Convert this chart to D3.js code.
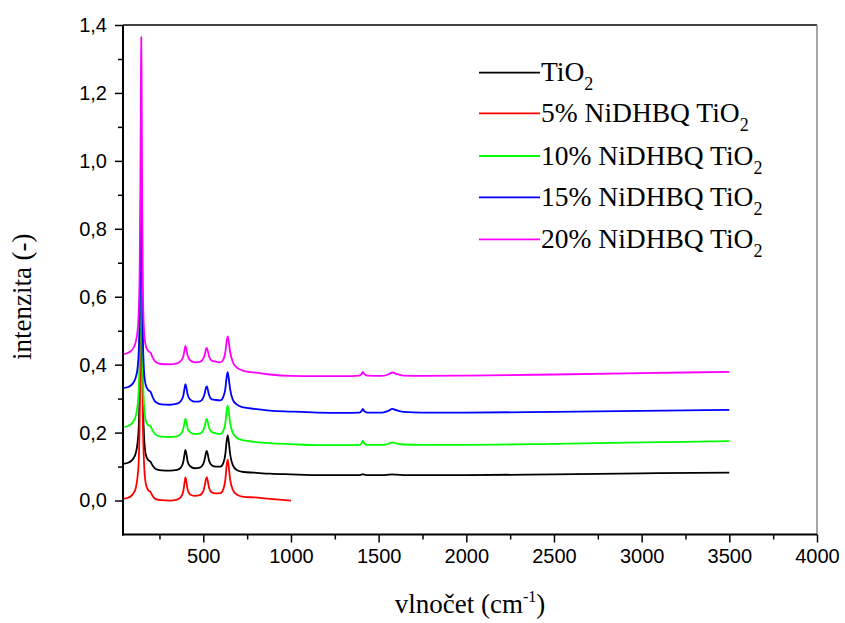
<!DOCTYPE html>
<html>
<head>
<meta charset="utf-8">
<script src="https://cdn.jsdelivr.net/npm/d3@7"></script>
<style>
  html, body { margin: 0; padding: 0; background: #fff; }
  svg { display: block; }
</style>
</head>
<body>
<svg id="chart" width="845" height="623"></svg>
<script>
// ---- data ----
const wavenumbers = [42, 75, 100, 115, 125, 132, 137, 141, 144, 146, 148, 151, 155, 162, 172, 186, 198, 210, 228, 260, 310, 350, 372, 386, 393, 398, 403, 411, 425, 450, 480, 500, 510, 515, 520, 525, 533, 548, 572, 598, 614, 626, 633, 639, 645, 653, 668, 690, 730, 790, 880, 1000, 1150, 1300, 1390, 1403, 1410, 1418, 1435, 1520, 1555, 1578, 1600, 1640, 1750, 2000, 2500, 3000, 3500];

const tio2 = [.108, .112, .123, .14, .17, .22, .33, .53, .74, .80, .73, .52, .32, .19, .135, .119, .115, .104, .093, .089, .088, .09, .097, .114, .136, .149, .139, .114, .101, .095, .097, .108, .127, .141, .146, .137, .117, .104, .10, .10, .11, .138, .174, .192, .174, .137, .104, .09, .084, .082, .079, .077, .075, .075, .075, .076, .078, .076, .075, .075, .076, .077, .076, .075, .075, .075, .077, .08, .082];

const ni5 = [.005, .009, .02, .037, .07, .12, .23, .43, .66, .72, .65, .45, .25, .11, .05, .03, .026, .014, .004, .001, .0, .003, .01, .028, .052, .068, .057, .031, .018, .014, .016, .028, .049, .063, .069, .059, .037, .024, .021, .022, .033, .063, .103, .120, .10, .062, .032, .018, .011, .009, .005, .0, null, null, null, null, null, null, null, null, null, null, null, null, null, null, null, null, null];

const ni10 = [.216, .22, .232, .25, .28, .33, .44, .63, .82, .87, .80, .60, .40, .28, .235, .222, .219, .207, .194, .188, .187, .189, .196, .212, .23, .241, .232, .211, .201, .196, .197, .207, .223, .235, .240, .232, .214, .202, .198, .196, .205, .23, .264, .279, .262, .229, .199, .185, .177, .173, .169, .166, .163, .163, .164, .169, .176, .168, .164, .164, .167, .171, .168, .165, .164, .164, .167, .171, .175];

const ni15 = [.331, .335, .346, .363, .39, .44, .54, .72, .90, .95, .88, .68, .49, .38, .34, .325, .321, .306, .29, .283, .282, .285, .293, .309, .330, .343, .334, .311, .297, .291, .292, .303, .320, .332, .336, .328, .31, .298, .296, .295, .305, .33, .363, .378, .36, .328, .297, .283, .274, .27, .265, .262, .259, .258, .259, .264, .27, .263, .259, .259, .264, .27, .266, .261, .259, .259, .261, .264, .267];

const ni20 = [.431, .436, .448, .468, .50, .56, .68, .92, 1.22, 1.365, 1.25, .92, .64, .50, .455, .440, .436, .422, .408, .402, .401, .404, .411, .425, .443, .455, .447, .426, .413, .407, .408, .418, .433, .445, .449, .442, .424, .412, .409, .407, .415, .438, .468, .483, .468, .438, .408, .392, .382, .377, .371, .367, .366, .366, .368, .373, .379, .372, .368, .367, .371, .377, .373, .368, .367, .368, .371, .375, .379];

const seriesNames = ["TiO2", "5% NiDHBQ TiO2", "10% NiDHBQ TiO2", "15% NiDHBQ TiO2", "20% NiDHBQ TiO2"];
const legendMain = ["TiO", "5% NiDHBQ TiO", "10% NiDHBQ TiO", "15% NiDHBQ TiO", "20% NiDHBQ TiO"];
const seriesColors = ["#000000", "#ff0000", "#00ff00", "#0000ff", "#ff00ff"];
const seriesValues = [tio2, ni5, ni10, ni15, ni20];

const xMajorTicks = [500, 1000, 1500, 2000, 2500, 3000, 3500, 4000];
const xMinorTicks = [250, 750, 1250, 1750, 2250, 2750, 3250, 3750];
const yMajorTicks = [0.0, 0.2, 0.4, 0.6, 0.8, 1.0, 1.2, 1.4];
const yMinorTicks = [0.1, 0.3, 0.5, 0.7, 0.9, 1.1, 1.3];

// ---- layout ----
const L = 123, R = 817, T = 25, B = 534.5;
const svg = d3.select("#chart");
const x = d3.scaleLinear().domain([42, 4000]).range([L, R]);
const y = d3.scaleLinear().domain([-0.1, 1.4]).range([B, T]);

const tickFont = "'Liberation Sans', Arial, sans-serif";
const serif = "'Liberation Serif', 'Times New Roman', serif";

// frame top & right
svg.append("line").attr("x1", L).attr("x2", R).attr("y1", T).attr("y2", T)
  .attr("stroke", "#000").attr("stroke-width", 1.3);
svg.append("line").attr("x1", R).attr("x2", R).attr("y1", T).attr("y2", B)
  .attr("stroke", "#777").attr("stroke-width", 1.3);

// series
const line = d3.line()
  .defined(d => d[1] !== null)
  .x(d => x(d[0])).y(d => y(d[1]))
  .curve(d3.curveMonotoneX);

const gLines = svg.append("g");
seriesValues.forEach((vals, i) => {
  const pts = wavenumbers.map((w, j) => [w, vals[j]]);
  gLines.append("path")
    .datum(pts)
    .attr("d", line)
    .attr("fill", "none")
    .attr("stroke", seriesColors[i])
    .attr("stroke-width", 1.8)
    .attr("stroke-linejoin", "round");
});

// axes
const xAxis = svg.append("g").attr("transform", `translate(0,${B})`)
  .call(d3.axisBottom(x).tickValues(xMajorTicks).tickSize(8).tickPadding(6).tickFormat(d3.format("d")));
const xMinor = svg.append("g").attr("transform", `translate(0,${B})`)
  .call(d3.axisBottom(x).tickValues(xMinorTicks).tickSize(5).tickFormat(""));
const yAxis = svg.append("g").attr("transform", `translate(${L},0)`)
  .call(d3.axisLeft(y).tickValues(yMajorTicks).tickSize(8).tickPadding(8)
    .tickFormat(d => d.toFixed(1).replace(".", ",")));
const yMinor = svg.append("g").attr("transform", `translate(${L},0)`)
  .call(d3.axisLeft(y).tickValues(yMinorTicks).tickSize(5).tickFormat(""));

[xAxis, xMinor, yAxis, yMinor].forEach(g => {
  g.select(".domain").attr("stroke", "#000").attr("stroke-width", 2);
  g.selectAll(".tick line").attr("stroke", "#000").attr("stroke-width", 1.5);
  g.selectAll("text").attr("font-family", tickFont).attr("font-size", 20).attr("fill", "#000");
});
xMinor.select(".domain").remove();
yMinor.select(".domain").remove();
yAxis.select(".domain").attr("d", `M0,${T}V${B + 1}`);
xAxis.select(".domain").attr("d", `M${L - 1},0H${R}`);

// axis titles
const xt = svg.append("text")
  .attr("x", (L + R) / 2).attr("y", 613)
  .attr("text-anchor", "middle")
  .attr("font-family", serif).attr("font-size", 27).attr("fill", "#000");
xt.append("tspan").text("vlnočet (cm");
xt.append("tspan").attr("font-size", 16).attr("dy", -11).text("-1");
xt.append("tspan").attr("dy", 11).text(")");

svg.append("text")
  .attr("transform", `translate(31,${(T + B) / 2 + 17}) rotate(-90)`)
  .attr("text-anchor", "middle")
  .attr("font-family", serif).attr("font-size", 27).attr("fill", "#000")
  .text("intenzita (-)");

// legend
const legendY = [72.7, 113.3, 156, 197.3, 239.3];
const lg = svg.append("g");
seriesNames.forEach((name, i) => {
  lg.append("line")
    .attr("x1", 479).attr("x2", 540)
    .attr("y1", legendY[i]).attr("y2", legendY[i])
    .attr("stroke", seriesColors[i]).attr("stroke-width", 1.8);
  const t = lg.append("text")
    .attr("x", 541).attr("y", legendY[i] + 8.5)
    .attr("font-family", serif).attr("font-size", 27.5).attr("fill", "#000");
  t.append("tspan").text(legendMain[i]);
  t.append("tspan").attr("font-size", 18).attr("dy", 9).text("2");
});
</script>
</body>
</html>
